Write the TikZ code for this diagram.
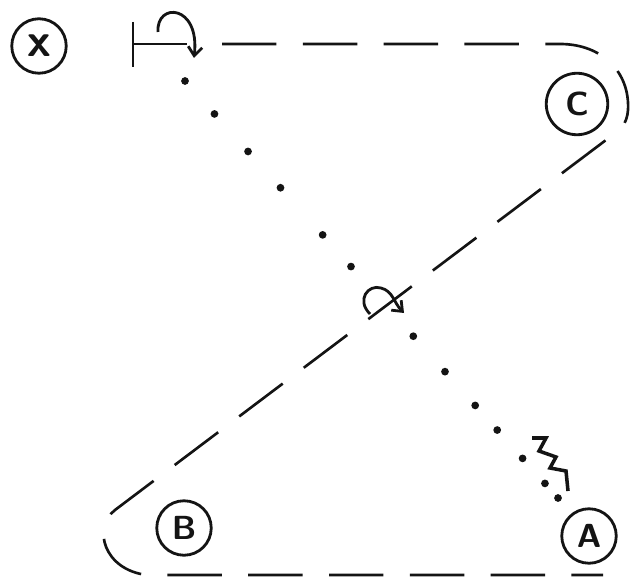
\documentclass[tikz,border=0pt]{standalone}
\usetikzlibrary{arrows.meta, calc}
\definecolor{ink}{HTML}{141414}

\begin{document}
\begin{tikzpicture}[
  x=0.02cm, y=-0.02cm,
  >={Straight Barb[length=5pt, width=8pt]},
  letter/.style={circle, draw=ink, line width=1.6pt, minimum size=31pt,
    inner sep=0pt, text=ink, font=\sffamily\bfseries\fontsize{19}{19}\selectfont},
  dashline/.style={draw=ink, line width=1.5pt, dash pattern=on 31pt off 15pt},
  stroke/.style={draw=ink, line width=1.6pt},
]

% Background
\fill[white] (0,0) rectangle (634,580);
\useasboundingbox (0,0) rectangle (634,580);

% ========================================
% Circled letters
% ========================================
\node[letter, font=\sffamily\bfseries\fontsize{27}{27}\selectfont] (x) at (39,46) {x};
\node[letter, minimum height=35pt] (c) at (577,104) {C};
\node[letter] (b) at (184,528) {B};
\node[letter] (a) at (589,536) {A};

\coordinate (bar) at (133,44);
\coordinate (mid) at (378,300);
\coordinate (dstart) at (185,81);
\coordinate (dend) at (558,498);
\coordinate (spring) at (532,438);

% Bar with turning arrow
\draw[stroke] ($(bar)+(0,-22)$) -- ($(bar)+(0,23)$);
\draw[stroke] (bar) -- ++(54,0);
\draw[stroke, ->] ($(bar)+(25,-12)$) .. controls ($(bar)+(23,-42)$) and ($(bar)+(67,-40)$) .. ($(bar)+(61,14)$);

% Dashed route round C and B
\draw[dashline] ($(bar)+(89,0)$) -- (560,44)
  .. controls (602,44) and (630,72) .. (628,110)
  .. controls (627,124) and (620,131) .. (610,137)
  -- (115,510)
  .. controls (92,528) and (104,570) .. (147,575)
  -- (603,575);

% Loop in the middle
\draw[stroke, ->] ($(mid)+(-8,14)$)
  .. controls ($(mid)+(-22,0)$) and ($(mid)+(-10,-16)$) .. ($(mid)+(3,-12)$)
  .. controls ($(mid)+(15,-9)$) and ($(mid)+(16,3)$) .. ($(mid)+(26,13)$);

% Dotted diagonal
\foreach \t in {0,0.079,0.169,0.256,0.369,0.445,0.612,0.697,0.778,0.837,0.905,0.965,1}
  \fill[ink] ($(dstart)!\t!(dend)$) circle (2.2pt);

% Zigzag
\draw[stroke, line width=2pt, line join=miter] (spring) -- ++(14,0) -- ++(-7,13) -- ++(17,6)
  -- ++(-6,11) -- ++(16,3) -- ++(2,20);

\end{tikzpicture}
\end{document}
